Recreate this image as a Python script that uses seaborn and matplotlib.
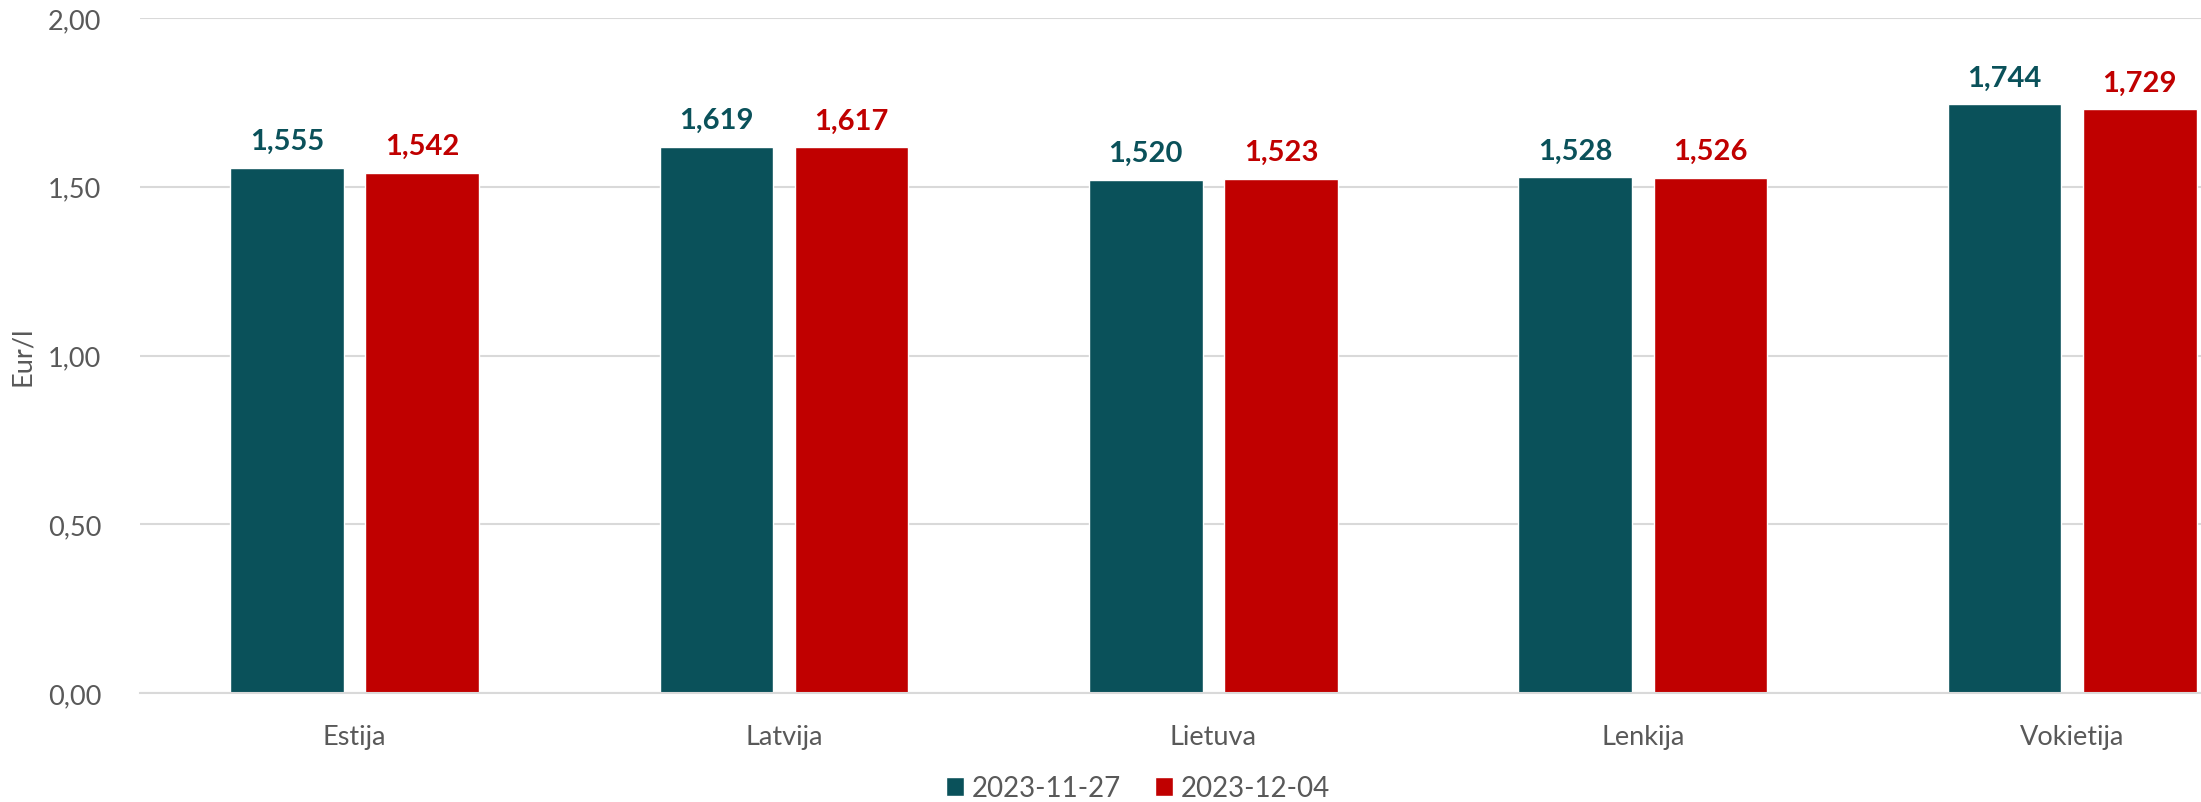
import pandas as pd
import matplotlib.pyplot as plt
import seaborn as sns
from matplotlib.ticker import FuncFormatter

# Data
countries = ['Estija', 'Latvija', 'Lietuva', 'Lenkija', 'Vokietija']
dates = ['2023-11-27', '2023-12-04']
price_nov27 = [1.555, 1.619, 1.520, 1.528, 1.744]
price_dec04 = [1.542, 1.617, 1.523, 1.526, 1.729]

colors = ['#0a515a', '#c00000']

df = pd.DataFrame({
    'Šalis': countries * 2,
    'Data': [dates[0]] * len(countries) + [dates[1]] * len(countries),
    'Kaina': price_nov27 + price_dec04,
})

sns.set_theme(style="white")
plt.rcParams['font.family'] = ['Lato', 'DejaVu Sans']

fig = plt.figure(figsize=(22.01, 8.03), dpi=100)
ax = fig.add_axes([0.0636, 0.1357, 0.9364, 0.8406])

sns.barplot(data=df, x='Šalis', y='Kaina', hue='Data', palette=colors,
            width=0.63, gap=0.16, ax=ax, saturation=1, legend=True)

ax.set_ylim(0, 2.0)
ax.set_xlim(-0.5, 4.3)
ax.set_yticks([0, 0.5, 1.0, 1.5, 2.0])
ax.yaxis.set_major_formatter(FuncFormatter(lambda v, p: f"{v:.2f}".replace('.', ',')))
ax.grid(axis='y', color='#d9d9d9', linewidth=1.5)
ax.set_axisbelow(True)
for s in ['top', 'right', 'left']:
    ax.spines[s].set_visible(False)
ax.spines['bottom'].set_color('#d9d9d9')
ax.spines['bottom'].set_linewidth(1.5)
ax.tick_params(axis='both', length=0, labelsize=19.5, colors='#595959')
ax.tick_params(axis='x', pad=22)
ax.tick_params(axis='y', pad=28)
ax.set_xlabel('')
ax.set_ylabel('Eur/l', fontsize=19.5, color='#595959', labelpad=9)

for cont, col in zip(ax.containers, colors):
    ax.bar_label(cont, labels=[f"{v:.3f}".replace('.', ',') for v in cont.datavalues],
                 padding=10, fontsize=21, fontweight='bold', color=col)

handles, labels = ax.get_legend_handles_labels()
ax.legend_.remove()
fig.legend(handles, labels, loc='center', bbox_to_anchor=(0.517, 0.017),
           ncol=2, frameon=False, fontsize=20, labelcolor='#595959',
           handlelength=0.65, handleheight=0.65, handletextpad=0.3, columnspacing=1.2)

plt.savefig('out.png', dpi=100)
